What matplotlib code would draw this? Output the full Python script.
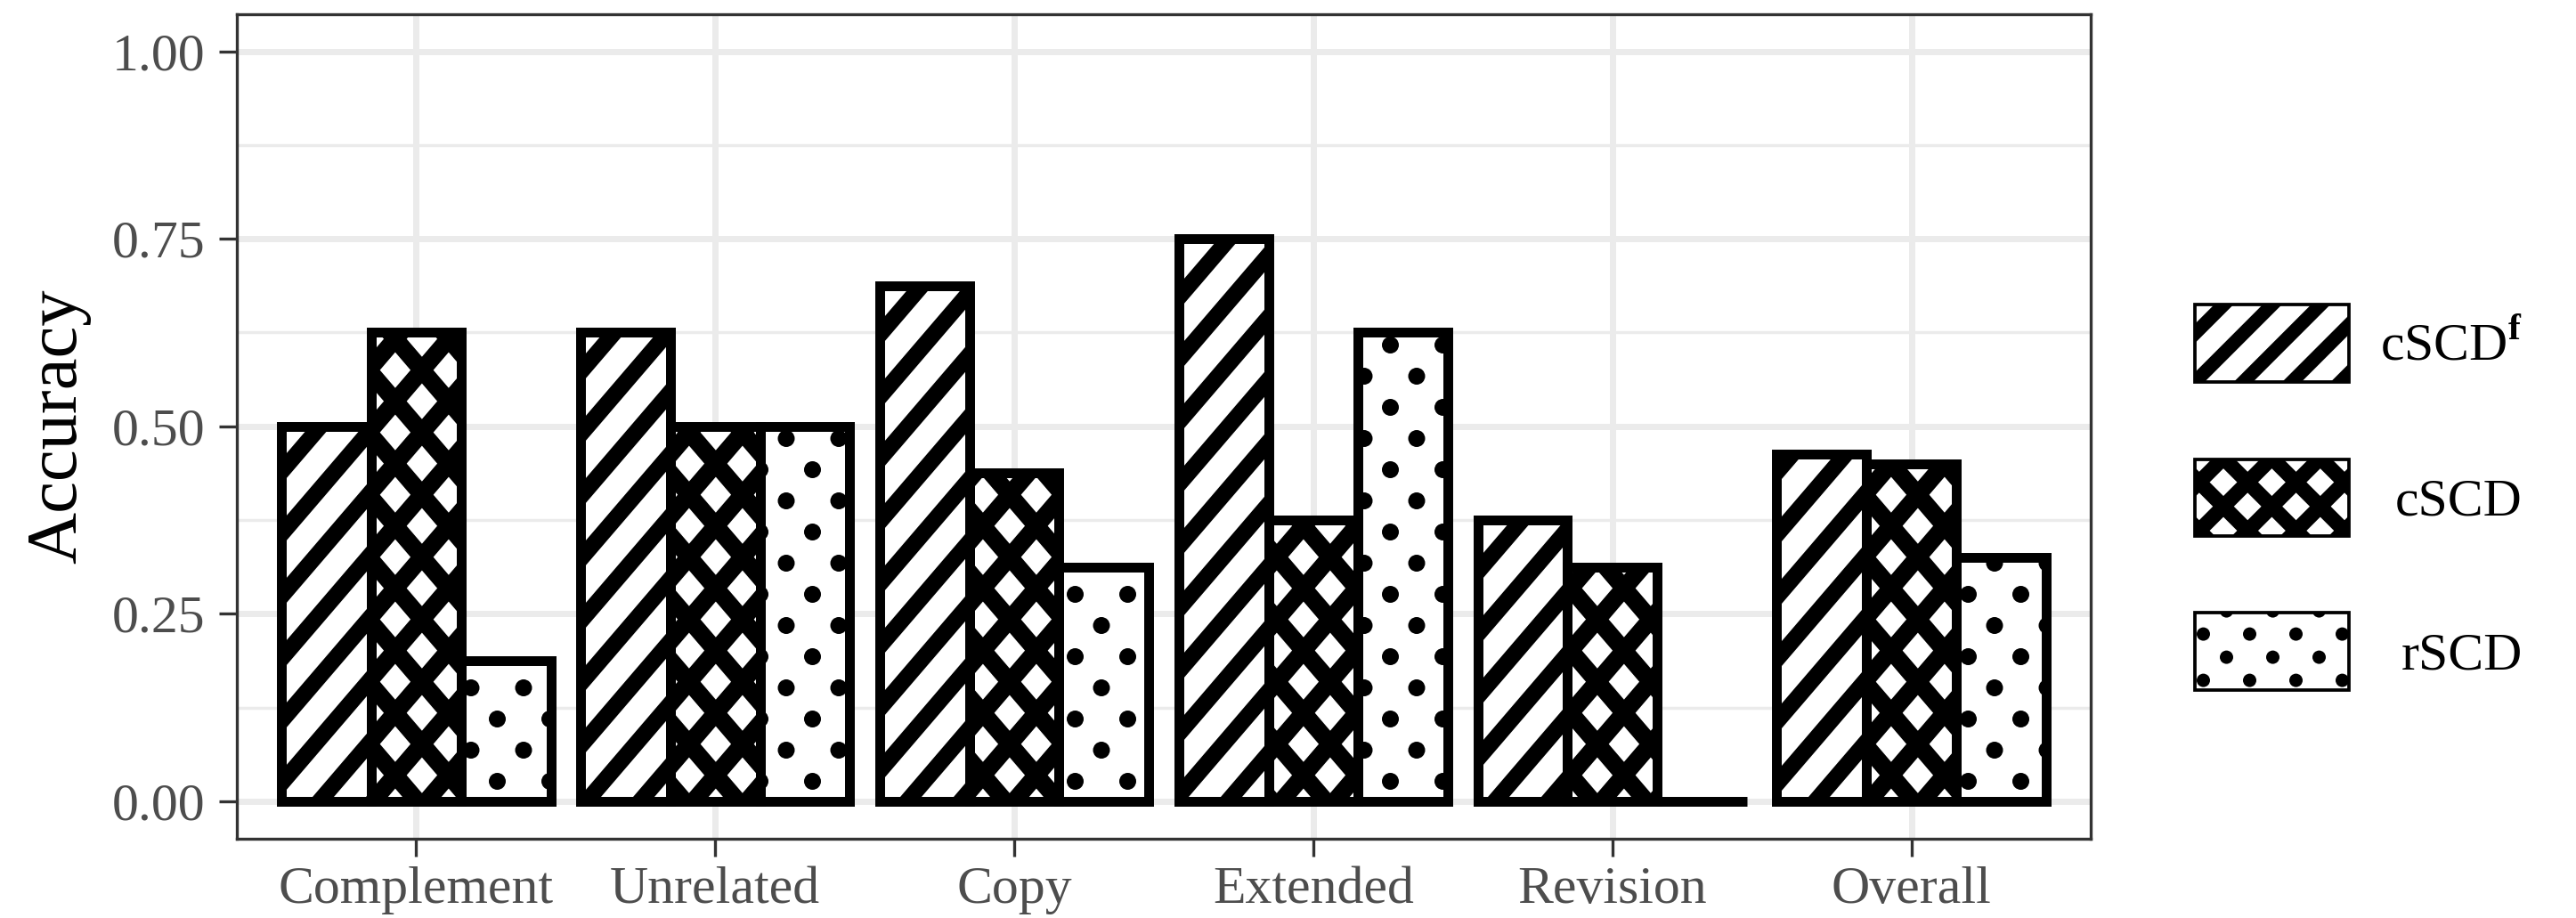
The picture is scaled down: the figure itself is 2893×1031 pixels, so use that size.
import numpy as np
import matplotlib
matplotlib.use("Agg")
import matplotlib.pyplot as plt
from matplotlib.patches import Rectangle, Circle
from matplotlib.collections import LineCollection, PatchCollection
from matplotlib.transforms import IdentityTransform

# ---- data -------------------------------------------------------------
categories = ["Complement", "Unrelated", "Copy", "Extended", "Revision", "Overall"]
acc_cscdf = [0.5, 0.625, 0.6875, 0.75, 0.375, 0.4625]
acc_cscd = [0.625, 0.5, 0.4375, 0.375, 0.3125, 0.45]
acc_rscd = [0.1875, 0.5, 0.3125, 0.625, 0.0, 0.325]
legend_labels = [r"cSCD$^{\mathbf{f}}$", "cSCD", "rSCD"]
y_ticks = [0.0, 0.25, 0.5, 0.75, 1.0]
y_ticklabels = ["0.00", "0.25", "0.50", "0.75", "1.00"]
y_label = "Accuracy"

# ---- style ------------------------------------------------------------
plt.rcParams["font.family"] = ["Liberation Serif", "DejaVu Serif"]
plt.rcParams["mathtext.fontset"] = "custom"
plt.rcParams["mathtext.rm"] = "Liberation Serif"
plt.rcParams["mathtext.bf"] = "Liberation Serif:bold"

W, H, DPI = 2893, 1031, 100
GRID = "#EBEBEB"
DARK = "#333333"
TICKTXT = "#4D4D4D"

fig = plt.figure(figsize=(W / DPI, H / DPI), dpi=DPI)
fig.patch.set_facecolor("white")

# panel placed in pixel units
px_l, px_r, px_t, px_b = 266, 2348, 15.5, 942
ax = fig.add_axes([px_l / W, 1 - px_b / H, (px_r - px_l) / W, (px_b - px_t) / H])
ax.set_xlim(-0.6, len(categories) - 0.4)
ax.set_ylim(-0.05, 1.05)

for sp in ax.spines.values():
    sp.set_color(DARK)
    sp.set_linewidth(2.4)

ax.set_yticks(y_ticks)
ax.set_yticklabels(y_ticklabels)
ax.set_yticks([0.125, 0.375, 0.625, 0.875], minor=True)
ax.set_xticks(np.arange(len(categories)))
ax.set_xticklabels(categories)
ax.set_axisbelow(True)
ax.grid(which="major", color=GRID, linewidth=5)
ax.grid(which="minor", axis="y", color=GRID, linewidth=2.5)
ax.tick_params(which="major", length=14.4, width=2.4, color=DARK,
               labelsize=43, labelcolor=TICKTXT)
ax.tick_params(which="minor", length=0)
ax.tick_params(axis="x", pad=8)
ax.tick_params(axis="y", pad=11)

fig.text(66, H - 479, y_label, transform=IdentityTransform(), rotation=90,
         ha="center", va="center", fontsize=58, color="black")

# ---- bars -------------------------------------------------------------
x = np.arange(len(categories))
bar_w = 0.3
series = [acc_cscdf, acc_cscd, acc_rscd]
offsets = [-bar_w, 0.0, bar_w]
patterns = ["stripe", "crosshatch", "dots"]

fill_bars = []
for off, vals in zip(offsets, series):
    fb = ax.bar(x + off, vals, width=bar_w, color="white", edgecolor="none", zorder=2)
    ax.bar(x + off, vals, width=bar_w, fill=False, edgecolor="black",
           linewidth=7.9, joinstyle="miter", zorder=4)
    fill_bars.append(fb)


def hatch_lines(owner, clip, bb, slope, b0, step, lw):
    """Parallel lines y = slope*x + b0 + n*step (pixels), clipped to a patch."""
    pad = 60
    xa, xb = bb.x0 - pad, bb.x1 + pad
    bvals = [bb.y0 - slope * xa, bb.y1 - slope * xa, bb.y0 - slope * xb, bb.y1 - slope * xb]
    n0 = int(np.floor((min(bvals) - b0) / step)) - 1
    n1 = int(np.ceil((max(bvals) - b0) / step)) + 1
    segs = [[(xa, slope * xa + b0 + n * step), (xb, slope * xb + b0 + n * step)]
            for n in range(n0, n1 + 1)]
    lc = LineCollection(segs, colors="black", linewidths=lw, capstyle="butt",
                        transform=IdentityTransform(), zorder=3)
    if owner is fig:
        fig.add_artist(lc)
    else:
        owner.add_collection(lc, autolim=False)
    lc.set_clip_path(clip)


def dot_grid(owner, clip, bb, x_anchor, y_anchor, dx, dy, r):
    """Staggered dot lattice (pixels), clipped to a patch."""
    circles = []
    i0 = int(np.floor((bb.x0 - x_anchor) / dx)) - 1
    i1 = int(np.ceil((bb.x1 - x_anchor) / dx)) + 1
    j0 = int(np.floor((bb.y0 - y_anchor) / dy)) - 1
    j1 = int(np.ceil((bb.y1 - y_anchor) / dy)) + 1
    for i in range(i0, i1 + 1):
        for j in range(j0, j1 + 1):
            cx, cy = x_anchor + i * dx, y_anchor + j * dy
            circles.append(Circle((cx, cy), r))
            circles.append(Circle((cx + dx / 2, cy - dy / 2), r))
    pc = PatchCollection(circles, facecolor="black", edgecolor="none",
                         transform=IdentityTransform(), zorder=3)
    if owner is fig:
        fig.add_artist(pc)
    else:
        owner.add_collection(pc, autolim=False)
    pc.set_clip_path(clip)


# pattern geometry inside the panel (pixels, y measured from bottom)
k_bar = 7.0 / 6.0
step_bar = 70.0
bA_bar = H - 1458.5          # up-right family
bB_bar = H + 277.2           # down-right family
for kind, bars in zip(patterns, fill_bars):
    for patch in bars.patches:
        bb = patch.get_window_extent()
        if bb.height < 1:
            continue
        if kind == "stripe":
            hatch_lines(ax, patch, bb, k_bar, bA_bar, step_bar, 13.1)
        elif kind == "crosshatch":
            hatch_lines(ax, patch, bb, k_bar, bA_bar, step_bar, 14.0)
            hatch_lines(ax, patch, bb, -k_bar, bB_bar, step_bar, 14.0)
        else:
            dot_grid(ax, patch, bb, 529.0, H - 772.5, 59.0, 70.0, 9.5)

# ---- legend -----------------------------------------------------------
key_x0, key_w, key_h = 2464.5, 173.0, 86.5
key_centers = [385.3, 558.8, 731.7]   # pixel rows from the top
label_right = 2833
for kind, lab, cy_img in zip(patterns, legend_labels, key_centers):
    cy = H - cy_img
    key_bg = Rectangle((key_x0, cy - key_h / 2), key_w, key_h, facecolor="white",
                       edgecolor="none", transform=IdentityTransform(), zorder=2)
    fig.add_artist(key_bg)
    bb = key_bg.get_window_extent()
    if kind == "stripe":
        hatch_lines(fig, key_bg, bb, 1.0, H - 2948.4, 54.4, 11.0)
    elif kind == "crosshatch":
        hatch_lines(fig, key_bg, bb, 1.0, H - 3065.8, 54.4, 12.0)
        hatch_lines(fig, key_bg, bb, -1.0, H + 1982.6, 54.4, 12.0)
    else:
        dot_grid(fig, key_bg, bb, 2474.5, H - 712.1, 52.0, 52.0, 7.5)
    key_edge = Rectangle((key_x0, cy - key_h / 2), key_w, key_h, fill=False,
                         edgecolor="black", linewidth=2.7, joinstyle="miter",
                         transform=IdentityTransform(), zorder=4)
    fig.add_artist(key_edge)
    fig.text(label_right, cy - 19.5, lab, transform=IdentityTransform(),
             ha="right", va="baseline", fontsize=43, color="black")

fig.savefig("out.png", dpi=DPI, facecolor="white")
